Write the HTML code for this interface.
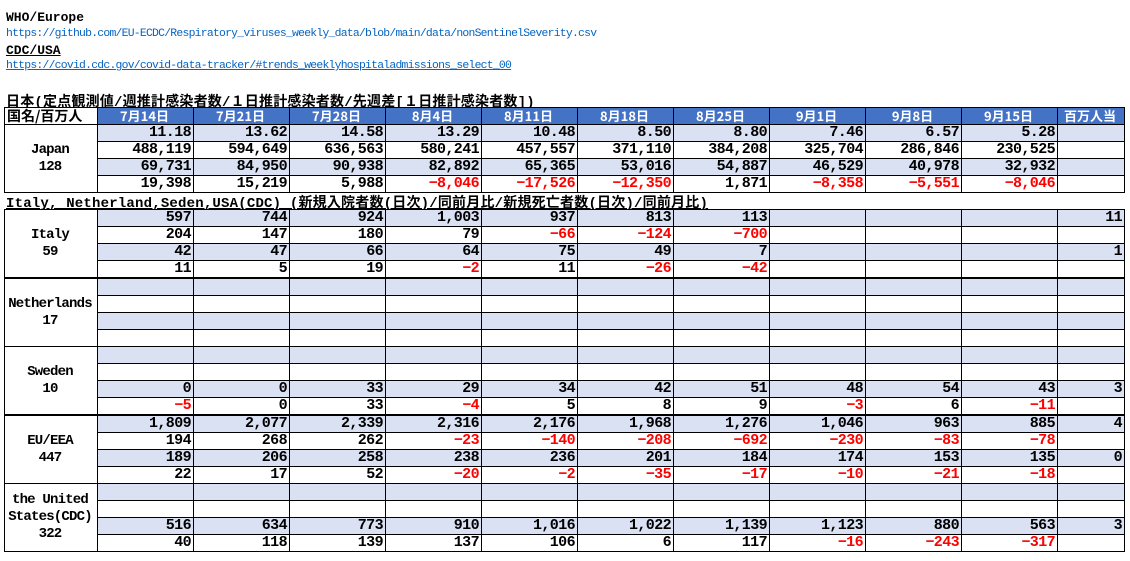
<!DOCTYPE html>
<html><head><meta charset="utf-8">
<style>
body{margin:0;width:1130px;height:561px;background:#fff;position:relative;overflow:hidden;font-family:"Liberation Mono","Noto Sans CJK JP",monospace;}
.t{position:absolute;left:6px;white-space:nowrap;}
.b{font-weight:bold;font-size:13px;color:#000;}
.l{font-size:11.4px;color:#0563C1;letter-spacing:-0.75px;}
.u{text-decoration:underline;}
.ti{font-weight:bold;font-size:14px;text-decoration:underline;font-family:"Liberation Mono","Noto Sans CJK JP",monospace;letter-spacing:0.2px;}
table{position:absolute;left:4px;border-collapse:collapse;table-layout:fixed;}
td{border:1px solid #000;height:16px;padding:0 2px 0 0;text-align:right;font-weight:bold;font-size:15px;line-height:16px;white-space:nowrap;overflow:hidden;letter-spacing:-0.6px;}
tr.f td{background:#D9E1F2;}
td.c{background:#fff !important;text-align:center;line-height:17px;letter-spacing:-0.8px;font-size:14px;}
tr.h td{background:#4472C4;color:#fff;text-align:center;font-family:"Noto Sans CJK JP",sans-serif;font-size:13px;letter-spacing:0;}
tr.h td.hc{background:#fff;color:#000;text-align:left;padding-left:2px;font-size:14px;}
.r{color:#f00;}
tr.tk td{border-bottom:2px solid #000;}
</style></head><body>
<div class="t b" style="top:10px">WHO/Europe</div>
<div class="t l" style="top:28px">https://github.com/EU-ECDC/Respiratory_viruses_weekly_data/blob/main/data/nonSentinelSeverity.csv</div>
<div class="t b u" style="top:43px">CDC/USA</div>
<div class="t l u" style="top:60px">https://covid.cdc.gov/covid-data-tracker/#trends_weeklyhospitaladmissions_select_00</div>
<div class="t ti" style="top:91px">日本(定点観測値/週推計感染者数/１日推計感染者数/先週差[１日推計感染者数])</div>
<table style="top:107px">
<colgroup><col style="width:93px"><col style="width:96px"><col style="width:96px"><col style="width:96px"><col style="width:96px"><col style="width:96px"><col style="width:96px"><col style="width:96px"><col style="width:96px"><col style="width:96px"><col style="width:96px"><col style="width:67px"></colgroup>
<tr class="h"><td class="hc">国名/百万人</td><td>7月14日</td><td>7月21日</td><td>7月28日</td><td>8月4日</td><td>8月11日</td><td>8月18日</td><td>8月25日</td><td>9月1日</td><td>9月8日</td><td>9月15日</td><td>百万人当</td></tr>
<tr class="f"><td class="c" rowspan="4">Japan<br>128</td><td>11.18</td><td>13.62</td><td>14.58</td><td>13.29</td><td>10.48</td><td>8.50</td><td>8.80</td><td>7.46</td><td>6.57</td><td>5.28</td><td></td></tr>
<tr><td>488,119</td><td>594,649</td><td>636,563</td><td>580,241</td><td>457,557</td><td>371,110</td><td>384,208</td><td>325,704</td><td>286,846</td><td>230,525</td><td></td></tr>
<tr class="f"><td>69,731</td><td>84,950</td><td>90,938</td><td>82,892</td><td>65,365</td><td>53,016</td><td>54,887</td><td>46,529</td><td>40,978</td><td>32,932</td><td></td></tr>
<tr><td>19,398</td><td>15,219</td><td>5,988</td><td class="r">−8,046</td><td class="r">−17,526</td><td class="r">−12,350</td><td>1,871</td><td class="r">−8,358</td><td class="r">−5,551</td><td class="r">−8,046</td><td></td></tr>
</table>
<div class="t ti" style="top:192px">Italy, Netherland,Seden,USA(CDC) (新規入院者数(日次)/同前月比/新規死亡者数(日次)/同前月比)</div>
<table style="top:209px">
<colgroup><col style="width:93px"><col style="width:96px"><col style="width:96px"><col style="width:96px"><col style="width:96px"><col style="width:96px"><col style="width:96px"><col style="width:96px"><col style="width:96px"><col style="width:96px"><col style="width:96px"><col style="width:67px"></colgroup>
<tr class="f"><td class="c" rowspan="4" style="border-bottom:2px solid #000">Italy<br>59</td><td>597</td><td>744</td><td>924</td><td>1,003</td><td>937</td><td>813</td><td>113</td><td></td><td></td><td></td><td>11</td></tr>
<tr><td>204</td><td>147</td><td>180</td><td>79</td><td class="r">−66</td><td class="r">−124</td><td class="r">−700</td><td></td><td></td><td></td><td></td></tr>
<tr class="f"><td>42</td><td>47</td><td>66</td><td>64</td><td>75</td><td>49</td><td>7</td><td></td><td></td><td></td><td>1</td></tr>
<tr class="tk"><td>11</td><td>5</td><td>19</td><td class="r">−2</td><td>11</td><td class="r">−26</td><td class="r">−42</td><td></td><td></td><td></td><td></td></tr>
<tr class="f"><td class="c" rowspan="4">Netherlands<br>17</td><td></td><td></td><td></td><td></td><td></td><td></td><td></td><td></td><td></td><td></td><td></td></tr>
<tr><td></td><td></td><td></td><td></td><td></td><td></td><td></td><td></td><td></td><td></td><td></td></tr>
<tr class="f"><td></td><td></td><td></td><td></td><td></td><td></td><td></td><td></td><td></td><td></td><td></td></tr>
<tr><td></td><td></td><td></td><td></td><td></td><td></td><td></td><td></td><td></td><td></td><td></td></tr>
<tr class="f"><td class="c" rowspan="4" style="border-bottom:2px solid #000">Sweden<br>10</td><td></td><td></td><td></td><td></td><td></td><td></td><td></td><td></td><td></td><td></td><td></td></tr>
<tr><td></td><td></td><td></td><td></td><td></td><td></td><td></td><td></td><td></td><td></td><td></td></tr>
<tr class="f"><td>0</td><td>0</td><td>33</td><td>29</td><td>34</td><td>42</td><td>51</td><td>48</td><td>54</td><td>43</td><td>3</td></tr>
<tr class="tk"><td class="r">−5</td><td>0</td><td>33</td><td class="r">−4</td><td>5</td><td>8</td><td>9</td><td class="r">−3</td><td>6</td><td class="r">−11</td><td></td></tr>
<tr class="f"><td class="c" rowspan="4">EU/EEA<br>447</td><td>1,809</td><td>2,077</td><td>2,339</td><td>2,316</td><td>2,176</td><td>1,968</td><td>1,276</td><td>1,046</td><td>963</td><td>885</td><td>4</td></tr>
<tr><td>194</td><td>268</td><td>262</td><td class="r">−23</td><td class="r">−140</td><td class="r">−208</td><td class="r">−692</td><td class="r">−230</td><td class="r">−83</td><td class="r">−78</td><td></td></tr>
<tr class="f"><td>189</td><td>206</td><td>258</td><td>238</td><td>236</td><td>201</td><td>184</td><td>174</td><td>153</td><td>135</td><td>0</td></tr>
<tr><td>22</td><td>17</td><td>52</td><td class="r">−20</td><td class="r">−2</td><td class="r">−35</td><td class="r">−17</td><td class="r">−10</td><td class="r">−21</td><td class="r">−18</td><td></td></tr>
<tr class="f"><td class="c" rowspan="4">the United<br>States(CDC)<br>322</td><td></td><td></td><td></td><td></td><td></td><td></td><td></td><td></td><td></td><td></td><td></td></tr>
<tr><td></td><td></td><td></td><td></td><td></td><td></td><td></td><td></td><td></td><td></td><td></td></tr>
<tr class="f"><td>516</td><td>634</td><td>773</td><td>910</td><td>1,016</td><td>1,022</td><td>1,139</td><td>1,123</td><td>880</td><td>563</td><td>3</td></tr>
<tr><td>40</td><td>118</td><td>139</td><td>137</td><td>106</td><td>6</td><td>117</td><td class="r">−16</td><td class="r">−243</td><td class="r">−317</td><td></td></tr>
</table>
</body></html>
